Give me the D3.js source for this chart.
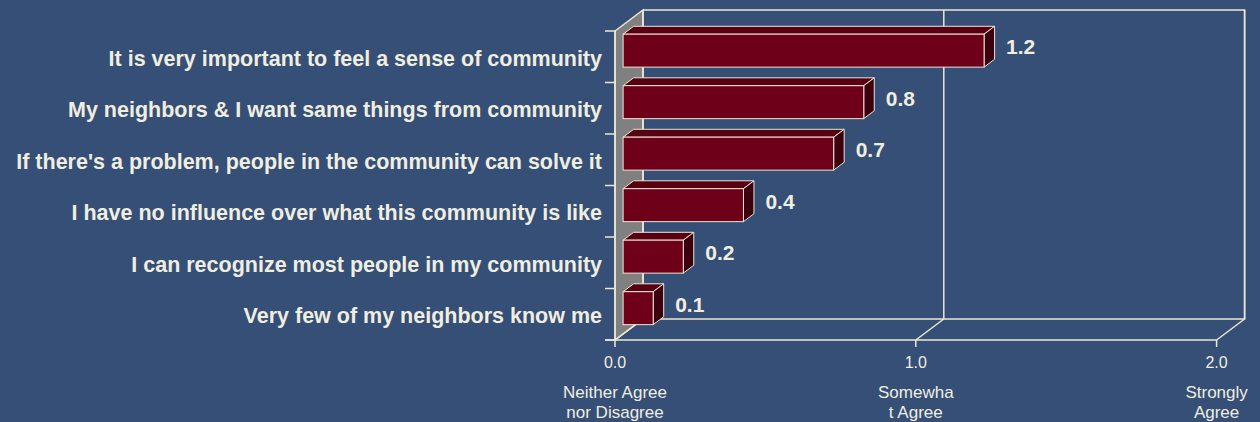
<!DOCTYPE html>
<html>
<head>
<meta charset="utf-8">
<script src="https://cdn.jsdelivr.net/npm/d3@7"></script>
<style>
  html, body { margin: 0; padding: 0; background: #354f76; }
  svg { display: block; }
</style>
</head>
<body>
<svg id="chart" width="1260" height="422"></svg>
<script>
// Survey statements (top to bottom) and mean agreement scores
const categories = [
  "It is very important to feel a sense of community",
  "My neighbors & I want same things from community",
  "If there's a problem, people in the community can solve it",
  "I have no influence over what this community is like",
  "I can recognize most people in my community",
  "Very few of my neighbors know me"
];
const values = [1.2, 0.8, 0.7, 0.4, 0.2, 0.1];
const tickValues = [0, 1, 2];
const tickNames = [["Neither Agree", "nor Disagree"], ["Somewha", "t Agree"], ["Strongly", "Agree"]];

const svg = d3.select("#chart");
const W = 1260, H = 422;
svg.append("rect").attr("width", W).attr("height", H).attr("fill", "#354f76");

const line = "#ebe8d6";
const textCol = "#f0eee0";
const font = "Liberation Sans, Arial, sans-serif";
const fmt = d3.format(".1f");

// front plane of the 3D box
const x = d3.scaleLinear().domain([0, 2]).range([615, 1216.6]);
const y = d3.scaleBand().domain(categories).range([31, 340]).paddingInner(0.36).paddingOuter(0.18);
const yTop = 31, yBot = 340;

// depth offset of the box
const DX = 28, DY = -21;
const off = d => [DX * d, DY * d];

// bar depth span
const d1 = 0.29, d2 = 0.665;

const g = svg.append("g");

// left wall
const [bx, by] = off(1);
g.append("path")
  .attr("d", `M${x(0)},${yTop} L${x(0)+bx},${yTop+by} L${x(0)+bx},${yBot+by} L${x(0)},${yBot} Z`)
  .attr("fill", "#808080").attr("stroke", line).attr("stroke-width", 1.5);

// back wall outline and gridlines
g.append("path")
  .attr("d", `M${x(0)+bx},${yTop+by} L${x(2)+bx},${yTop+by} L${x(2)+bx},${yBot+by} L${x(0)+bx},${yBot+by}`)
  .attr("fill", "none").attr("stroke", line).attr("stroke-width", 1.5);
tickValues.forEach(t => {
  g.append("line")
    .attr("x1", x(t) + bx).attr("x2", x(t) + bx)
    .attr("y1", yTop + by).attr("y2", yBot + by)
    .attr("stroke", line).attr("stroke-width", 1.5);
  // floor depth lines
  g.append("line")
    .attr("x1", x(t)).attr("x2", x(t) + bx)
    .attr("y1", yBot).attr("y2", yBot + by)
    .attr("stroke", line).attr("stroke-width", 1.5);
  // tick marks
  g.append("line")
    .attr("x1", x(t)).attr("x2", x(t))
    .attr("y1", yBot).attr("y2", yBot + 7)
    .attr("stroke", line).attr("stroke-width", 1.5);
});
// front floor edge
g.append("line").attr("x1", x(0) - 10).attr("x2", x(2)).attr("y1", yBot).attr("y2", yBot)
  .attr("stroke", line).attr("stroke-width", 1.5);
// front vertical axis
g.append("line").attr("x1", x(0)).attr("x2", x(0)).attr("y1", yTop).attr("y2", yBot)
  .attr("stroke", line).attr("stroke-width", 1.5);
// category ticks
const step = y.step();
d3.range(categories.length + 1).forEach(i => {
  const yy = yTop + i * step;
  g.append("line").attr("x1", x(0) - 10).attr("x2", x(0)).attr("y1", yy).attr("y2", yy)
    .attr("stroke", line).attr("stroke-width", 1.5);
});

// bars
const [fx, fy] = off(d1);
const [kx, ky] = off(d2);
const bars = g.selectAll("g.bar").data(categories.map((c, i) => ({c, v: values[i]}))).enter()
  .append("g").attr("class", "bar");
bars.each(function(d) {
  const b = d3.select(this);
  const x0 = x(0) + fx, x1 = x(d.v) + fx;
  const y0 = y(d.c) + fy, y1 = y0 + y.bandwidth();
  const ddx = kx - fx, ddy = ky - fy;
  // top face
  b.append("path")
    .attr("d", `M${x0},${y0} L${x0+ddx},${y0+ddy} L${x1+ddx},${y0+ddy} L${x1},${y0} Z`)
    .attr("fill", "#580012").attr("stroke", line).attr("stroke-width", 1);
  // side face
  b.append("path")
    .attr("d", `M${x1},${y0} L${x1+ddx},${y0+ddy} L${x1+ddx},${y1+ddy} L${x1},${y1} Z`)
    .attr("fill", "#3c000e").attr("stroke", line).attr("stroke-width", 1);
  // front face
  b.append("rect")
    .attr("x", x0).attr("y", y0).attr("width", x1 - x0).attr("height", y1 - y0)
    .attr("fill", "#6e0019").attr("stroke", line).attr("stroke-width", 1);
  // value label
  b.append("text")
    .attr("x", x1 + 22).attr("y", (y0 + y1) / 2 - 4)
    .attr("dy", "0.35em")
    .attr("font-family", font)
    .attr("font-weight", "bold").attr("font-size", 21)
    .attr("fill", textCol)
    .text(fmt(d.v));
});

// category labels
g.selectAll("text.cat").data(categories).enter().append("text")
  .attr("class", "cat")
  .attr("x", 602)
  .attr("y", d => y(d) + y.bandwidth() / 2 + 1.5)
  .attr("dy", "0.35em")
  .attr("text-anchor", "end")
  .attr("font-family", font)
  .attr("font-weight", "bold").attr("font-size", 21.5)
  .attr("fill", textCol)
  .text(d => d);

// x tick labels
tickValues.forEach((t, i) => {
  g.append("text")
    .attr("x", x(t)).attr("y", 368)
    .attr("text-anchor", "middle")
    .attr("font-family", font)
    .attr("font-size", 16).attr("fill", textCol)
    .text(fmt(t));
  tickNames[i].forEach((s, j) => {
    g.append("text")
      .attr("x", x(t)).attr("y", 398 + j * 20)
      .attr("text-anchor", "middle")
      .attr("font-family", font)
      .attr("font-size", 17).attr("fill", textCol)
      .text(s);
  });
});
</script>
</body>
</html>
